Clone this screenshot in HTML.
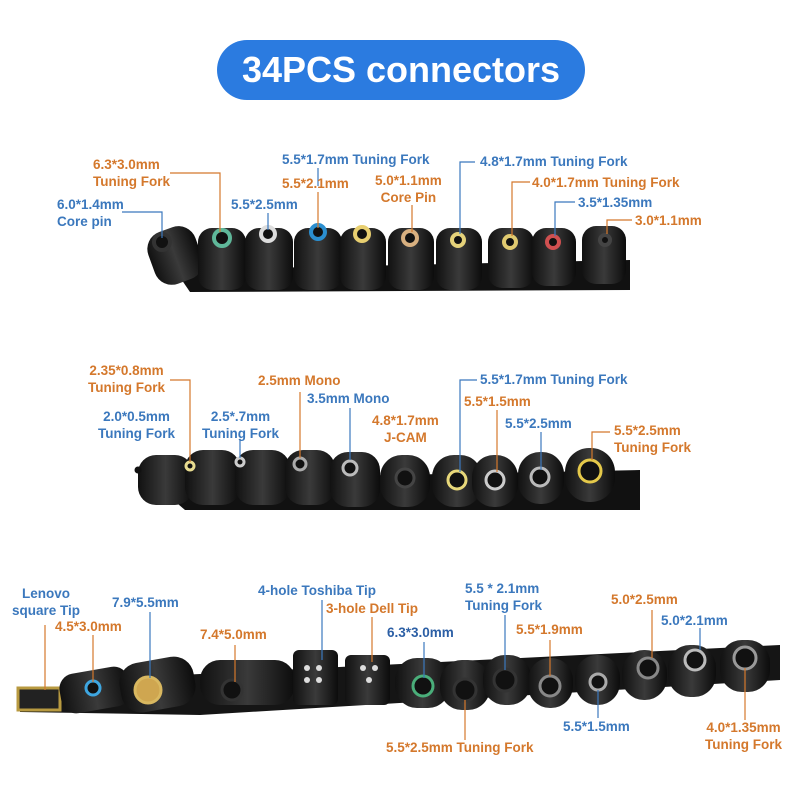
<!DOCTYPE html>
<html><head><meta charset="utf-8"><style>
body{margin:0;width:800px;height:800px;background:#fff;position:relative;overflow:hidden;font-family:"Liberation Sans",sans-serif}
.t{position:absolute;font-size:13.5px;font-weight:bold;line-height:17px;white-space:nowrap}
.o{color:#d4782c}.b{color:#3b78bd}
svg{position:absolute;left:0;top:0}
</style></head><body>
<div style="position:absolute;left:217px;top:40px;width:368px;height:60px;border-radius:30px;background:#2b7be0;color:#fff;font-weight:bold;font-size:36px;text-align:center;line-height:60px">34PCS connectors</div>
<svg width="800" height="800">
<defs>
<linearGradient id="g" x1="0" y1="0" x2="1" y2="0"><stop offset="0" stop-color="#111"/><stop offset=".5" stop-color="#3a3a3a"/><stop offset="1" stop-color="#0c0c0c"/></linearGradient>
</defs>
<path d="M175 270 L630 260 L630 290 L190 292 Z" fill="#111"/>
<g fill="url(#g)">
<rect x="150" y="228" width="50" height="55" rx="18" transform="rotate(-20 175 255)"/>
<rect x="198" y="228" width="48" height="62" rx="14"/><rect x="245" y="228" width="48" height="62" rx="14"/>
<rect x="294" y="228" width="48" height="62" rx="14"/><rect x="340" y="228" width="46" height="62" rx="14"/>
<rect x="388" y="228" width="46" height="62" rx="14"/><rect x="436" y="228" width="46" height="62" rx="14"/>
<rect x="488" y="228" width="46" height="60" rx="14"/><rect x="532" y="228" width="44" height="58" rx="14"/>
<rect x="582" y="226" width="44" height="58" rx="14"/>
</g>
<g stroke-width="4" fill="#111">
<circle cx="162" cy="242" r="8" stroke="#333"/><circle cx="222" cy="238" r="8" stroke="#5fb89a"/>
<circle cx="268" cy="234" r="7" stroke="#ddd"/><circle cx="318" cy="232" r="7" stroke="#2b8fd0"/>
<circle cx="362" cy="234" r="7" stroke="#e8cf70"/><circle cx="410" cy="238" r="7" stroke="#d8b080"/>
<circle cx="458" cy="240" r="6" stroke="#e5d27a"/><circle cx="510" cy="242" r="6" stroke="#e0ca70"/>
<circle cx="553" cy="242" r="6" stroke="#d05050"/><circle cx="605" cy="240" r="5" stroke="#444"/>
</g>
<path d="M150 480 L640 470 L640 510 L185 510 Z" fill="#111"/>
<g fill="url(#g)">
<rect x="138" y="455" width="55" height="50" rx="18"/><rect x="185" y="450" width="55" height="55" rx="18"/>
<rect x="235" y="450" width="55" height="55" rx="18"/><rect x="285" y="450" width="50" height="55" rx="18"/>
<rect x="330" y="452" width="50" height="55" rx="18"/><rect x="380" y="455" width="50" height="52" rx="22"/>
<rect x="432" y="455" width="50" height="52" rx="22"/><rect x="472" y="455" width="46" height="52" rx="22"/>
<rect x="518" y="452" width="46" height="52" rx="22"/><rect x="565" y="448" width="50" height="54" rx="24"/>
</g>
<g stroke-width="3" fill="#111">
<circle cx="138" cy="470" r="2" stroke="#111"/><circle cx="190" cy="466" r="4" stroke="#e8dc90"/>
<circle cx="240" cy="462" r="4" stroke="#ccc"/><circle cx="300" cy="464" r="6" stroke="#aaa"/>
<circle cx="350" cy="468" r="7" stroke="#bbb"/><circle cx="405" cy="478" r="9" stroke="#444"/>
<circle cx="457" cy="480" r="9" stroke="#e8d87a"/><circle cx="495" cy="480" r="9" stroke="#ccc"/>
<circle cx="540" cy="477" r="9" stroke="#bbb"/><circle cx="590" cy="471" r="11" stroke="#e5c94a"/>
</g>
<path d="M20 700 L180 675 L780 645 L780 680 L200 715 L20 712 Z" fill="#151515"/>
<rect x="18" y="688" width="42" height="22" fill="#222" stroke="#b89a40" stroke-width="3"/>
<g fill="url(#g)">
<rect x="60" y="670" width="70" height="40" rx="15" transform="rotate(-10 95 690)"/>
<rect x="120" y="660" width="75" height="50" rx="20" transform="rotate(-10 155 685)"/>
<rect x="200" y="660" width="95" height="45" rx="20"/>
<rect x="293" y="650" width="45" height="55" rx="6"/><rect x="345" y="655" width="45" height="50" rx="6"/>
<rect x="395" y="658" width="55" height="50" rx="22"/><rect x="440" y="660" width="50" height="50" rx="22"/>
<rect x="483" y="655" width="48" height="50" rx="22"/><rect x="528" y="658" width="45" height="50" rx="22"/>
<rect x="575" y="655" width="45" height="50" rx="22"/><rect x="622" y="650" width="45" height="50" rx="22"/>
<rect x="668" y="645" width="48" height="52" rx="22"/><rect x="720" y="640" width="50" height="52" rx="22"/>
</g>
<g stroke-width="3" fill="#111">
<circle cx="93" cy="688" r="7" stroke="#3ea6e0"/><circle cx="148" cy="690" r="13" stroke="#d9b860" fill="#cfa650"/>
<circle cx="232" cy="690" r="10" stroke="#333"/><circle cx="423" cy="686" r="10" stroke="#4aae7a"/>
<circle cx="465" cy="690" r="11" stroke="#333"/><circle cx="505" cy="680" r="11" stroke="#333"/>
<circle cx="550" cy="686" r="10" stroke="#888"/><circle cx="598" cy="682" r="8" stroke="#aaa"/>
<circle cx="648" cy="668" r="10" stroke="#888"/><circle cx="695" cy="660" r="10" stroke="#bbb"/>
<circle cx="745" cy="658" r="11" stroke="#999"/>
</g>
<g fill="#ddd"><circle cx="307" cy="668" r="3"/><circle cx="319" cy="668" r="3"/><circle cx="307" cy="680" r="3"/><circle cx="319" cy="680" r="3"/>
<circle cx="363" cy="668" r="3"/><circle cx="375" cy="668" r="3"/><circle cx="369" cy="680" r="3"/></g>
<g stroke-width="1.2" fill="none">
<path d="M122 212 H162 V238" stroke="#3b78bd"/><path d="M170 173 H220 V232" stroke="#d4782c"/>
<path d="M268 213 V230" stroke="#3b78bd"/><path d="M318 192 V228" stroke="#d4782c"/>
<path d="M318 168 V186" stroke="#3b78bd"/><path d="M412 205 V232" stroke="#d4782c"/>
<path d="M475 162 H460 V234" stroke="#3b78bd"/><path d="M530 182 H512 V236" stroke="#d4782c"/>
<path d="M575 202 H555 V236" stroke="#3b78bd"/><path d="M632 220 H607 V234" stroke="#d4782c"/>
<path d="M170 380 H190 V462" stroke="#d4782c"/><path d="M240 440 V458" stroke="#3b78bd"/>
<path d="M300 392 V458" stroke="#d4782c"/><path d="M350 408 V460" stroke="#3b78bd"/>
<path d="M477 380 H460 V472" stroke="#3b78bd"/><path d="M497 410 V472" stroke="#d4782c"/>
<path d="M541 432 V470" stroke="#3b78bd"/><path d="M610 432 H592 V460" stroke="#d4782c"/>
<path d="M45 625 V690" stroke="#d4782c"/><path d="M93 635 V682" stroke="#d4782c"/>
<path d="M150 612 V678" stroke="#3b78bd"/><path d="M235 645 V682" stroke="#d4782c"/>
<path d="M322 600 V660" stroke="#3b78bd"/><path d="M372 617 V662" stroke="#d4782c"/>
<path d="M424 642 V678" stroke="#3b78bd"/><path d="M465 740 V700" stroke="#d4782c"/>
<path d="M505 615 V670" stroke="#3b78bd"/><path d="M550 640 V676" stroke="#d4782c"/>
<path d="M598 718 V690" stroke="#3b78bd"/><path d="M652 610 V658" stroke="#d4782c"/>
<path d="M700 628 V650" stroke="#3b78bd"/><path d="M745 720 V668" stroke="#d4782c"/>
</g>
</svg>
<div class="t o" style="left:93px;top:156px">6.3*3.0mm<br>Tuning Fork</div>
<div class="t b" style="left:57px;top:196px">6.0*1.4mm<br>Core pin</div>
<div class="t b" style="left:231px;top:196px">5.5*2.5mm</div>
<div class="t b" style="left:282px;top:151px">5.5*1.7mm Tuning Fork</div>
<div class="t o" style="left:282px;top:175px">5.5*2.1mm</div>
<div class="t o" style="left:375px;top:172px;text-align:center">5.0*1.1mm<br>Core Pin</div>
<div class="t b" style="left:480px;top:153px">4.8*1.7mm Tuning Fork</div>
<div class="t o" style="left:532px;top:174px">4.0*1.7mm Tuning Fork</div>
<div class="t b" style="left:578px;top:194px">3.5*1.35mm</div>
<div class="t o" style="left:635px;top:212px">3.0*1.1mm</div>
<div class="t o" style="left:88px;top:362px;text-align:center">2.35*0.8mm<br>Tuning Fork</div>
<div class="t b" style="left:98px;top:408px;text-align:center">2.0*0.5mm<br>Tuning Fork</div>
<div class="t b" style="left:202px;top:408px;text-align:center">2.5*.7mm<br>Tuning Fork</div>
<div class="t o" style="left:258px;top:372px">2.5mm Mono</div>
<div class="t b" style="left:307px;top:390px">3.5mm Mono</div>
<div class="t o" style="left:372px;top:412px;text-align:center">4.8*1.7mm<br>J-CAM</div>
<div class="t b" style="left:480px;top:371px">5.5*1.7mm Tuning Fork</div>
<div class="t o" style="left:464px;top:393px">5.5*1.5mm</div>
<div class="t b" style="left:505px;top:415px">5.5*2.5mm</div>
<div class="t o" style="left:614px;top:422px">5.5*2.5mm<br>Tuning Fork</div>
<div class="t b" style="left:12px;top:585px;text-align:center">Lenovo<br>square Tip</div>
<div class="t o" style="left:55px;top:618px">4.5*3.0mm</div>
<div class="t b" style="left:112px;top:594px">7.9*5.5mm</div>
<div class="t o" style="left:200px;top:626px">7.4*5.0mm</div>
<div class="t b" style="left:258px;top:582px">4-hole Toshiba Tip</div>
<div class="t o" style="left:326px;top:600px">3-hole Dell Tip</div>
<div class="t b" style="left:387px;top:624px;color:#2c5fa5">6.3*3.0mm</div>
<div class="t b" style="left:465px;top:580px">5.5 * 2.1mm<br>Tuning Fork</div>
<div class="t o" style="left:516px;top:621px">5.5*1.9mm</div>
<div class="t o" style="left:611px;top:591px">5.0*2.5mm</div>
<div class="t b" style="left:661px;top:612px">5.0*2.1mm</div>
<div class="t o" style="left:386px;top:739px">5.5*2.5mm Tuning Fork</div>
<div class="t b" style="left:563px;top:718px">5.5*1.5mm</div>
<div class="t o" style="left:705px;top:719px;text-align:center">4.0*1.35mm<br>Tuning Fork</div>
</body></html>
